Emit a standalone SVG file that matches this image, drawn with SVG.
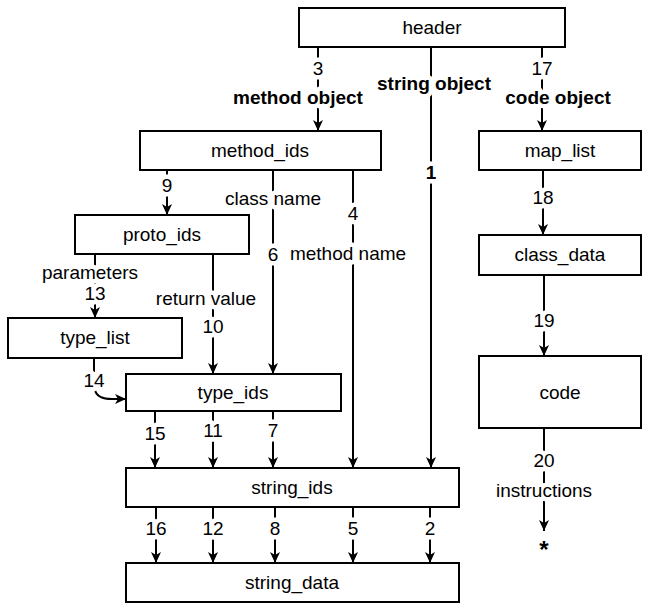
<svg xmlns="http://www.w3.org/2000/svg" width="650" height="604" viewBox="0 0 650 604">
<style>
  .box rect { fill: #fff; stroke: #000; stroke-width: 2; }
  .box text { font-family: "Liberation Sans", Arial, sans-serif; font-size: 19px; text-anchor: middle; fill: #000; }
  .c { fill: none; stroke: #000; stroke-width: 2; }
  .a { marker-end: url(#arr); }
  .lbl { font-family: "Liberation Sans", Arial, sans-serif; font-size: 19px; text-anchor: middle; fill: #000; stroke: #fff; stroke-width: 9; paint-order: stroke; stroke-linejoin: round; }
  .b { font-weight: bold; }
</style>
<defs>
  <marker id="arr" markerUnits="userSpaceOnUse" markerWidth="12" markerHeight="12" viewBox="0 0 12 12" refX="11" refY="6" orient="auto">
    <path d="M0,1 L11,6 L0,11 L3,6 z" fill="#000"/>
  </marker>
</defs>
<rect width="650" height="604" fill="#fff"/>
<g id="connectors">
  <line class="c a" x1="318" y1="47" x2="318" y2="131"/>
  <line class="c a" x1="431" y1="47" x2="431" y2="468"/>
  <line class="c a" x1="542" y1="47" x2="542" y2="131"/>
  <line class="c a" x1="167" y1="170" x2="167" y2="215"/>
  <line class="c a" x1="273" y1="170" x2="273" y2="374"/>
  <line class="c a" x1="353" y1="170" x2="353" y2="468"/>
  <line class="c a" x1="95" y1="254" x2="95" y2="318"/>
  <line class="c a" x1="213" y1="254" x2="213" y2="374"/>
  <line class="c" x1="94" y1="358" x2="94" y2="372"/>
  <path class="c a" d="M95,390 Q97,399 112,399 L126,399"/>
  <line class="c a" x1="155" y1="411" x2="155" y2="468"/>
  <line class="c a" x1="213" y1="411" x2="213" y2="468"/>
  <line class="c a" x1="273" y1="411" x2="273" y2="468"/>
  <line class="c a" x1="156" y1="507" x2="156" y2="563"/>
  <line class="c a" x1="213" y1="507" x2="213" y2="563"/>
  <line class="c a" x1="275" y1="507" x2="275" y2="563"/>
  <line class="c a" x1="353" y1="507" x2="353" y2="563"/>
  <line class="c a" x1="430" y1="507" x2="430" y2="563"/>
  <line class="c a" x1="543" y1="170" x2="543" y2="235"/>
  <line class="c a" x1="544" y1="275" x2="544" y2="356"/>
  <line class="c a" x1="544" y1="428" x2="544" y2="531"/>
  <text class="lbl" x="318" y="75">3</text>
  <text class="lbl b" x="298" y="104">method object</text>
  <text class="lbl b" x="434" y="90">string object</text>
  <text class="lbl" x="542" y="75">17</text>
  <text class="lbl b" x="558" y="104">code object</text>
  <text class="lbl b" x="431" y="179">1</text>
  <text class="lbl" x="167" y="192">9</text>
  <text class="lbl" x="273" y="205">class name</text>
  <text class="lbl" x="353" y="220">4</text>
  <text class="lbl" x="273" y="261">6</text>
  <text class="lbl" x="348" y="260">method name</text>
  <text class="lbl" x="90" y="279">parameters</text>
  <text class="lbl" x="95" y="300">13</text>
  <text class="lbl" x="206" y="305">return value</text>
  <text class="lbl" x="213" y="333">10</text>
  <text class="lbl" x="94" y="387">14</text>
  <text class="lbl" x="155" y="440">15</text>
  <text class="lbl" x="213" y="437">11</text>
  <text class="lbl" x="273" y="437">7</text>
  <text class="lbl" x="156" y="535">16</text>
  <text class="lbl" x="213" y="535">12</text>
  <text class="lbl" x="275" y="535">8</text>
  <text class="lbl" x="353" y="535">5</text>
  <text class="lbl" x="430" y="535">2</text>
  <text class="lbl" x="543" y="204">18</text>
  <text class="lbl" x="544" y="327">19</text>
  <text class="lbl" x="544" y="467">20</text>
  <text class="lbl" x="544" y="497">instructions</text>
  <text class="lbl b" x="544" y="558" style="font-size:24px">*</text>
</g>
<g id="header" class="box"><rect x="299" y="8" width="266" height="39"/><text x="432" y="34">header</text></g>
<g id="method_ids" class="box"><rect x="140" y="131" width="241" height="39"/><text x="260" y="157">method_ids</text></g>
<g id="map_list" class="box"><rect x="479" y="131" width="162" height="39"/><text x="560" y="157">map_list</text></g>
<g id="proto_ids" class="box"><rect x="75" y="215" width="174" height="39"/><text x="162" y="241">proto_ids</text></g>
<g id="class_data" class="box"><rect x="479" y="235" width="162" height="40"/><text x="560" y="261">class_data</text></g>
<g id="type_list" class="box"><rect x="8" y="318" width="174" height="40"/><text x="95" y="344">type_list</text></g>
<g id="code" class="box"><rect x="479" y="356" width="162" height="72"/><text x="560" y="399">code</text></g>
<g id="type_ids" class="box"><rect x="126" y="374" width="215" height="37"/><text x="233" y="399">type_ids</text></g>
<g id="string_ids" class="box"><rect x="126" y="468" width="333" height="39"/><text x="292" y="494">string_ids</text></g>
<g id="string_data" class="box"><rect x="126" y="563" width="333" height="39"/><text x="292" y="589">string_data</text></g>
</svg>
